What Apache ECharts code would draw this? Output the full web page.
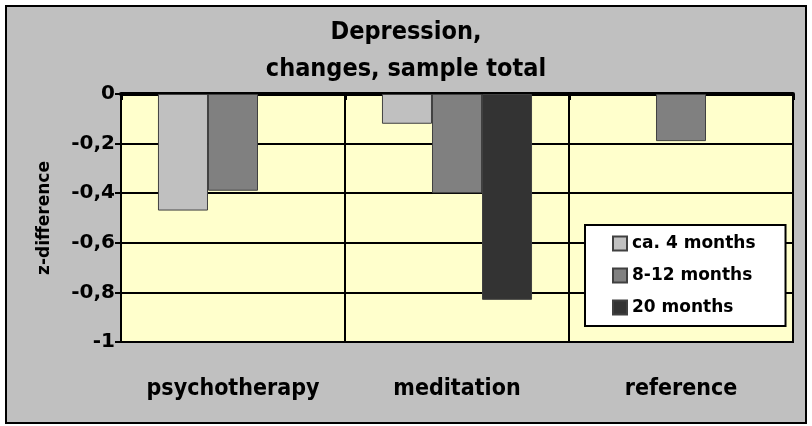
<!DOCTYPE html>
<html lang="en">
<head>
    <meta charset="UTF-8">
    <title>Depression, changes, sample total</title>
    <script src="https://cdn.jsdelivr.net/npm/echarts@6/dist/echarts.min.js"></script>
    <style>
        html, body { margin: 0; padding: 0; background: #fff; }
        #chart { width: 812px; height: 426px; }
    </style>
</head>
<body>
    <div id="chart"></div>
    <script>
        var categories = ['psychotherapy', 'meditation', 'reference'];
        var seriesNames = ['ca. 4 months', '8-12 months', '20 months'];
        var months4 = [-0.47, -0.12, '-'];
        var months8to12 = [-0.39, -0.40, -0.19];
        var months20 = ['-', -0.83, '-'];
        var barColors = ['#C0C0C0', '#808080', '#333333'];

        var narrow = "'Liberation Sans Narrow', 'DejaVu Sans Condensed', 'Arial Narrow', sans-serif";
        var wide = "'DejaVu Sans', Verdana, sans-serif";

        var chart = echarts.init(document.getElementById('chart'));

        function bar(name, data, color) {
            return {
                name: name,
                type: 'bar',
                data: data,
                barGap: '0%',
                barCategoryGap: '33%',
                itemStyle: { color: color, borderColor: '#404040', borderWidth: 1 }
            };
        }

        chart.setOption({
            backgroundColor: '#fff',
            animation: false,
            graphic: [{
                type: 'rect',
                z: -10,
                shape: { x: 6, y: 6, width: 800, height: 417 },
                style: { fill: '#C0C0C0', stroke: '#000', lineWidth: 2 }
            }],
            title: {
                text: 'Depression,\nchanges, sample total',
                left: 'center',
                top: 9,
                textStyle: { fontFamily: narrow, fontSize: 25, fontWeight: 'bold', color: '#000', lineHeight: 37 }
            },
            legend: {
                data: seriesNames,
                orient: 'vertical',
                left: 585,
                top: 225,
                backgroundColor: '#fff',
                borderColor: '#000',
                borderWidth: 2,
                padding: [10, 30, 10, 27],
                itemWidth: 14,
                itemHeight: 14,
                itemGap: 15,
                icon: 'rect',
                textStyle: { fontFamily: wide, fontSize: 17, fontWeight: 'bold', color: '#000' }
            },
            grid: {
                left: 121, right: 19, top: 94, bottom: 84,
                show: true,
                backgroundColor: '#FFFFCC',
                borderColor: '#000',
                borderWidth: 2
            },
            xAxis: [{
                type: 'category',
                data: categories,
                position: 'bottom',
                axisLine: { onZero: false, lineStyle: { color: '#000', width: 2 } },
                axisTick: { show: false },
                axisLabel: { interval: 0, margin: 36, fontFamily: narrow, fontSize: 23, fontWeight: 'bold', color: '#000' },
                splitLine: { show: true, interval: 0, lineStyle: { color: '#000', width: 2 } }
            }, {
                type: 'category',
                data: categories,
                position: 'top',
                axisLine: { lineStyle: { color: '#000', width: 4 } },
                axisTick: { show: true, interval: 0, inside: true, length: 6, lineStyle: { color: '#000', width: 3 } },
                axisLabel: { show: false },
                splitLine: { show: false }
            }],
            yAxis: {
                type: 'value',
                min: -1,
                max: 0,
                interval: 0.2,
                name: 'z-difference',
                nameLocation: 'middle',
                nameGap: 68,
                nameTextStyle: { fontFamily: wide, fontSize: 17, fontWeight: 'bold', color: '#000' },
                axisLine: { show: true, lineStyle: { color: '#000', width: 2 } },
                axisTick: { show: true, length: 6, lineStyle: { color: '#000', width: 2 } },
                axisLabel: {
                    fontFamily: wide, fontSize: 20, fontWeight: 'bold', color: '#000', margin: 6,
                    formatter: function (v) { return String(Math.round(v * 10) / 10).replace('.', ','); }
                },
                splitLine: { show: true, lineStyle: { color: '#000', width: 2 } }
            },
            series: [
                bar(seriesNames[0], months4, barColors[0]),
                bar(seriesNames[1], months8to12, barColors[1]),
                bar(seriesNames[2], months20, barColors[2])
            ]
        });
    </script>
</body>
</html>
